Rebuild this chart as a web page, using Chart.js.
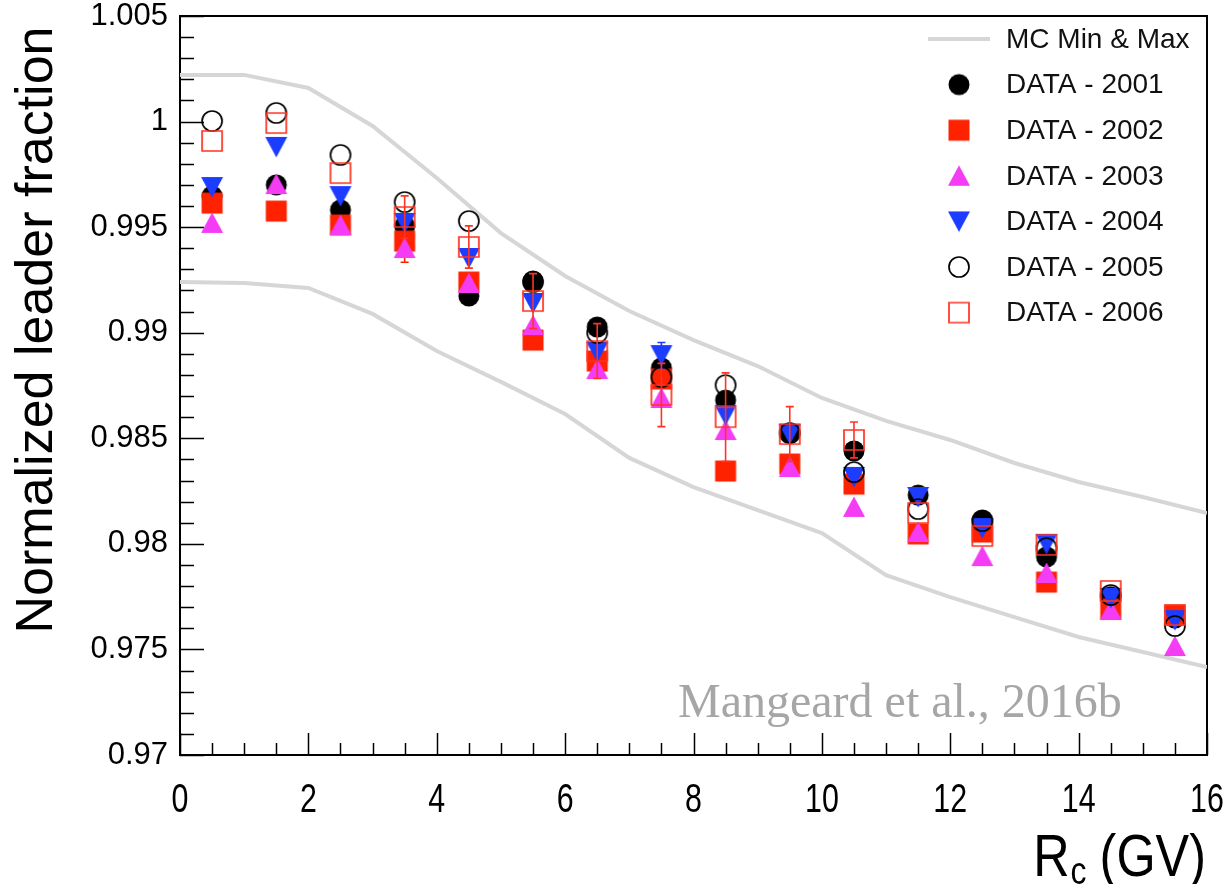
<!DOCTYPE html>
<html>
<head>
<meta charset="utf-8">
<script src="https://cdn.jsdelivr.net/npm/chart.js@4.4.1/dist/chart.umd.min.js"></script>
<style>
html,body{margin:0;padding:0;background:#ffffff;}
#wrap{position:relative;width:1227px;height:884px;}
</style>
</head>
<body>
<div id="wrap"><canvas id="c" width="1227" height="884"></canvas></div>
<script>
// ---------------- data ----------------
const rigidity = [0.5, 1.5, 2.5, 3.5, 4.5, 5.5, 6.5, 7.5, 8.5, 9.5, 10.5, 11.5, 12.5, 13.5, 14.5, 15.5];

const data2001 = [0.99647, 0.99700, 0.99581, 0.99505, 0.99174, 0.99245, 0.99027, 0.98833, 0.98681, 0.98525, 0.98440, 0.98231, 0.98113, 0.97938, 0.97750, 0.97649];
const data2002 = [0.99614, 0.99576, 0.99510, 0.99434, 0.99240, 0.98965, 0.98866, 0.98781, 0.98345, 0.98378, 0.98283, 0.98047, 0.98056, 0.97819, 0.97691, 0.97663];
const data2003 = [0.99520, 0.99704, 0.99510, 0.99401, 0.99235, 0.99036, 0.98828, 0.98691, 0.98539, 0.98364, 0.98175, 0.98056, 0.97942, 0.97862, 0.97687, 0.97516];
const data2004 = [0.99690, 0.99880, 0.99647, 0.99520, 0.99354, 0.99141, 0.98909, 0.98894, 0.98610, 0.98520, 0.98317, 0.98222, 0.98075, 0.98000, 0.97744, 0.97639];
const data2005 = [1.00003, 1.00041, 0.99842, 0.99619, 0.99529, 0.99240, 0.98999, 0.98790, 0.98752, 0.98525, 0.98340, 0.98165, 0.98108, 0.97980, 0.97758, 0.97611];
const data2006 = [0.99908, 0.99993, 0.99756, 0.99548, 0.99406, 0.99150, 0.98913, 0.98705, 0.98600, 0.98520, 0.98492, 0.98146, 0.98037, 0.97995, 0.97777, 0.97663];

const err2002 = [0.0002, 0.0002, 0.0003, 0.0010, 0.0004, 0.0004, 0.0004, 0.0004, 0.0005, 0.0004, 0.0004, 0.0004, 0.0004, 0.0004, 0.0004, 0.0004];
const err2004 = [0.0002, 0.0002, 0.0003, 0.0004, 0.0004, 0.0004, 0.0004, 0.0006, 0.0004, 0.0004, 0.0004, 0.0003, 0.0003, 0.0003, 0.0003, 0.0003];
const err2006 = [0.0002, 0.0002, 0.0003, 0.0010, 0.0010, 0.0013, 0.0013, 0.0015, 0.0021, 0.0013, 0.00085, 0.0004, 0.0004, 0.0004, 0.0004, 0.0004];

const mcRigidity = [0, 1, 2, 3, 4, 5, 6, 7, 8, 9, 10, 11, 12, 13, 14, 15, 16];
const mcMax = [1.00221, 1.00221, 1.00159, 0.99979, 0.99733, 0.99472, 0.99269, 0.99103, 0.98965, 0.98842, 0.98691, 0.98582, 0.98492, 0.98383, 0.98293, 0.98222, 0.98146];
const mcMin = [0.99240, 0.99235, 0.99212, 0.99089, 0.98913, 0.98767, 0.98615, 0.98407, 0.98269, 0.98160, 0.98051, 0.97852, 0.97748, 0.97653, 0.97559, 0.97488, 0.97417];

const xTickLabels = ['0', '2', '4', '6', '8', '10', '12', '14', '16'];
const yTickLabels = ['0.97', '0.975', '0.98', '0.985', '0.99', '0.995', '1', '1.005'];

const seriesNames = ['DATA - 2001', 'DATA - 2002', 'DATA - 2003', 'DATA - 2004', 'DATA - 2005', 'DATA - 2006'];
const mcName = 'MC Min & Max';
const yTitle = 'Normalized leader fraction';
const footnote = 'Mangeard et al., 2016b';

// ---------------- styles ----------------
const RED = '#ff2200';
const MAGENTA = '#f53cf5';
const BLUE = '#1c3cff';
const MC_GRAY = '#d6d6d6';

function makeMarker(kind, color) {
  const s = 28, c = s / 2;
  const cv = document.createElement('canvas');
  cv.width = s; cv.height = s;
  const g = cv.getContext('2d');
  g.fillStyle = color; g.strokeStyle = color; g.lineWidth = 1.7;
  g.beginPath();
  switch (kind) {
    case 'dot': g.arc(c, c, 10.5, 0, 2 * Math.PI); g.fill(); break;
    case 'ring': g.arc(c, c, 10, 0, 2 * Math.PI); g.stroke(); break;
    case 'box': g.rect(c - 10.5, c - 10.5, 21, 21); g.fill(); break;
    case 'frame': g.rect(c - 10, c - 10, 20, 20); g.stroke(); break;
    case 'up': g.moveTo(c, c - 10.5); g.lineTo(c + 11, c + 10); g.lineTo(c - 11, c + 10); g.closePath(); g.fill(); break;
    case 'down': g.moveTo(c, c + 10.5); g.lineTo(c + 11, c - 10); g.lineTo(c - 11, c - 10); g.closePath(); g.fill(); break;
  }
  return cv;
}

const markers = [
  makeMarker('dot', '#000000'),
  makeMarker('box', RED),
  makeMarker('up', MAGENTA),
  makeMarker('down', BLUE),
  makeMarker('ring', '#000000'),
  makeMarker('frame', '#ff3322')
];

const seriesValues = [data2001, data2002, data2003, data2004, data2005, data2006];
const seriesErrors = [null, err2002, null, err2004, null, err2006];
const errColors = [null, RED, null, BLUE, null, '#ff3322'];

function toPoints(xs, ys) { return xs.map((x, i) => ({ x: x, y: ys[i] })); }

const datasets = [
  { label: mcName, data: toPoints(mcRigidity, mcMax), showLine: true, borderColor: MC_GRAY, borderWidth: 4, pointRadius: 0, tension: 0, order: 20 },
  { label: mcName + ' (min)', data: toPoints(mcRigidity, mcMin), showLine: true, borderColor: MC_GRAY, borderWidth: 4, pointRadius: 0, tension: 0, order: 20 }
];
seriesNames.forEach((name, k) => {
  datasets.push({
    label: name,
    data: toPoints(rigidity, seriesValues[k]),
    pointStyle: markers[k],
    pointRadius: 10,
    pointHoverRadius: 10,
    showLine: false,
    order: 6 - k,
    errors: seriesErrors[k],
    errColor: errColors[k]
  });
});

const rootPlugin = {
  id: 'rootStyle',
  beforeDatasetsDraw(chart) {
    const ctx = chart.ctx, a = chart.chartArea;
    const xs = chart.scales.x, ys = chart.scales.y;
    ctx.save();
    ctx.strokeStyle = '#000'; ctx.lineWidth = 1.5;
    ctx.beginPath();
    for (let k = 0; k <= 32; k++) {
      const px = Math.round(xs.getPixelForValue(xs.min + k * 0.5)) + 0.5;
      const len = (k % 4 === 0) ? 22 : 12;
      ctx.moveTo(px, a.bottom); ctx.lineTo(px, a.bottom - len);
    }
    for (let k = 0; k <= 35; k++) {
      const py = Math.round(ys.getPixelForValue(ys.min + k * 0.001)) + 0.5;
      const len = (k % 5 === 0) ? 24 : 14;
      ctx.moveTo(a.left, py); ctx.lineTo(a.left + len, py);
    }
    ctx.stroke();
    ctx.lineWidth = 2;
    ctx.strokeRect(a.left, a.top, a.right - a.left, a.bottom - a.top);
    // x tick labels (condensed), placed at the scale's own ticks
    ctx.fillStyle = '#000';
    ctx.font = '40px "Liberation Sans", Arial, sans-serif';
    ctx.textAlign = 'center'; ctx.textBaseline = 'alphabetic';
    xs.ticks.forEach((t, i) => {
      const px = xs.getPixelForValue(t.value);
      ctx.save();
      ctx.translate(px, a.bottom + 57);
      ctx.scale(0.76, 1);
      ctx.fillText(xTickLabels[i], 0, 0);
      ctx.restore();
    });
    ctx.restore();
  },
  beforeDatasetDraw(chart, args) {
    const ds = chart.data.datasets[args.index];
    if (!ds.errors) return;
    const ctx = chart.ctx, xs = chart.scales.x, ys = chart.scales.y;
    ctx.save();
    ctx.strokeStyle = ds.errColor; ctx.lineWidth = 1.6;
    ctx.beginPath();
    ds.data.forEach((p, i) => {
      const e = ds.errors[i];
      const px = xs.getPixelForValue(p.x);
      const y1 = ys.getPixelForValue(p.y + e), y2 = ys.getPixelForValue(p.y - e);
      if (Math.abs(y2 - y1) / 2 < 12) return;
      ctx.moveTo(px, y1); ctx.lineTo(px, y2);
      ctx.moveTo(px - 4, y1); ctx.lineTo(px + 4, y1);
      ctx.moveTo(px - 4, y2); ctx.lineTo(px + 4, y2);
    });
    ctx.stroke();
    ctx.restore();
  },
  afterDraw(chart) {
    const ctx = chart.ctx, a = chart.chartArea;
    ctx.save();
    // legend
    const rowY0 = a.top + 23, rowStep = 45.6;
    const mkX = 959, txtX = 1006;
    ctx.font = '28px "Liberation Sans", Arial, sans-serif';
    ctx.textBaseline = 'middle'; ctx.textAlign = 'left';
    ctx.fillStyle = '#111';
    ctx.strokeStyle = MC_GRAY; ctx.lineWidth = 4;
    ctx.beginPath(); ctx.moveTo(928, rowY0); ctx.lineTo(990, rowY0); ctx.stroke();
    ctx.fillText(mcName, txtX, rowY0 + 1);
    seriesNames.forEach((name, k) => {
      const y = rowY0 + (k + 1) * rowStep;
      const m = markers[k];
      ctx.drawImage(m, mkX - m.width / 2, y - m.height / 2);
      ctx.fillText(name, txtX, y + 1);
    });
    // footnote
    ctx.font = '48px "Liberation Serif", "Times New Roman", serif';
    ctx.fillStyle = '#a6a6a6';
    ctx.textBaseline = 'alphabetic';
    ctx.fillText(footnote, 678, 717);
    // y title
    ctx.fillStyle = '#000';
    ctx.font = '52px "Liberation Sans", Arial, sans-serif';
    ctx.translate(37.5, 330);
    ctx.rotate(-Math.PI / 2);
    ctx.textAlign = 'center'; ctx.textBaseline = 'middle';
    ctx.fillText(yTitle, 0, 0);
    ctx.setTransform(1, 0, 0, 1, 0, 0);
    // x title: R_c (GV), condensed
    const sx = 0.84;
    const big = '60px "Liberation Sans", Arial, sans-serif';
    const small = '38px "Liberation Sans", Arial, sans-serif';
    ctx.textAlign = 'left'; ctx.textBaseline = 'alphabetic';
    ctx.font = big; const wR = ctx.measureText('R').width; const wRest = ctx.measureText(' (GV)').width;
    ctx.font = small; const wc = ctx.measureText('c').width;
    const total = (wR + wc + wRest) * sx;
    ctx.translate(1206 - total, 0);
    ctx.scale(sx, 1);
    ctx.font = big; ctx.fillText('R', 0, 876);
    ctx.font = small; ctx.fillText('c', wR + 1, 884);
    ctx.font = big; ctx.fillText(' (GV)', wR + wc, 876);
    ctx.restore();
  }
};

new Chart(document.getElementById('c'), {
  type: 'scatter',
  data: { datasets: datasets },
  options: {
    responsive: false,
    animation: false,
    devicePixelRatio: 1,
    layout: { padding: { top: 16, right: 20, left: 0, bottom: 0 } },
    plugins: { legend: { display: false }, tooltip: { enabled: false } },
    events: [],
    scales: {
      x: {
        type: 'linear', min: 0, max: 16,
        grid: { display: false, drawTicks: false },
        border: { display: false },
        ticks: {
          display: false,
          stepSize: 2, autoSkip: false, maxRotation: 0,
          callback: (v, i) => xTickLabels[i]
        },
        afterFit: (s) => { s.height = 129; s.paddingLeft = 0; s.paddingRight = 0; }
      },
      y: {
        type: 'linear', min: 0.97, max: 1.005,
        grid: { display: false, drawTicks: false },
        border: { display: false },
        ticks: {
          stepSize: 0.005, autoSkip: false, padding: 12,
          color: '#000',
          font: { family: '"Liberation Sans", Arial, sans-serif', size: 31 },
          callback: (v, i) => yTickLabels[i]
        },
        afterFit: (s) => { s.width = 180; s.paddingTop = 0; s.paddingBottom = 0; }
      }
    }
  },
  plugins: [rootPlugin]
});
</script>
</body>
</html>
